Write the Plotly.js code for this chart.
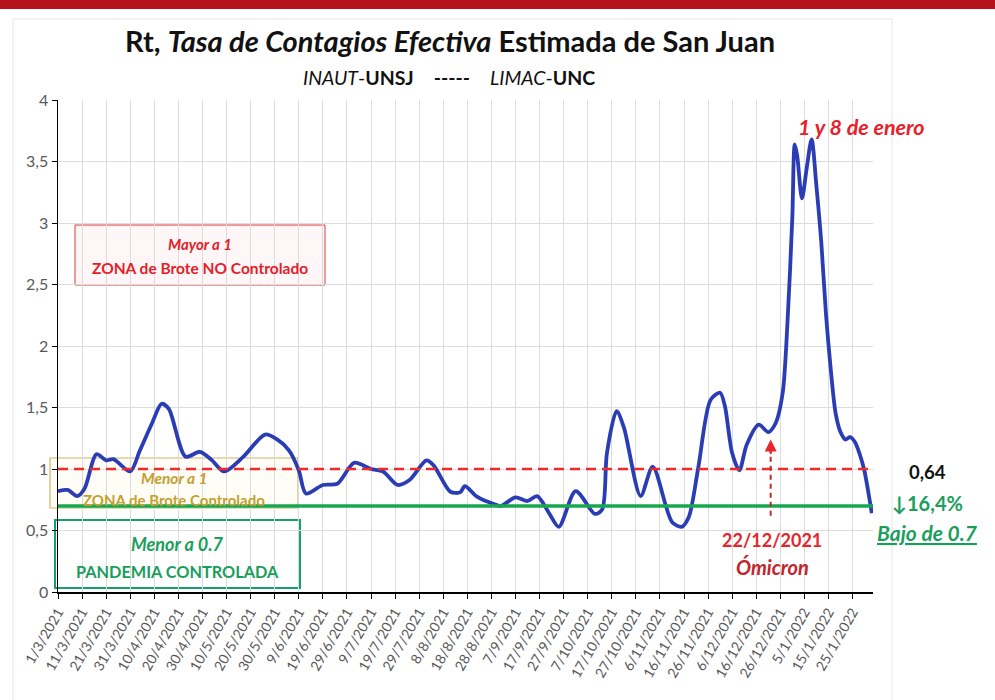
<!DOCTYPE html>
<html><head><meta charset="utf-8">
<script src="https://cdn.plot.ly/plotly-3.0.1.min.js"></script>
<style>html,body{margin:0;padding:0;background:#fff}#chart{width:995px;height:700px}</style>
</head><body><div id="chart"></div>
<script>
// ---- data ----
const dates = ['2021-03-01','2021-03-05','2021-03-09','2021-03-12','2021-03-17','2021-03-21','2021-03-24','2021-03-31',
'2021-04-04','2021-04-09','2021-04-13','2021-04-16','2021-04-23','2021-04-29','2021-05-04','2021-05-09','2021-05-17',
'2021-05-26','2021-05-31','2021-06-05','2021-06-09','2021-06-12','2021-06-19','2021-06-25','2021-07-02','2021-07-09',
'2021-07-14','2021-07-20','2021-07-25','2021-08-01','2021-08-04','2021-08-11','2021-08-15','2021-08-17','2021-08-22',
'2021-08-29','2021-09-01','2021-09-07','2021-09-12','2021-09-16','2021-09-21','2021-09-25','2021-10-02','2021-10-10',
'2021-10-13','2021-10-15','2021-10-19','2021-10-22','2021-10-29','2021-11-03','2021-11-11','2021-11-15','2021-11-18',
'2021-11-22','2021-11-27','2021-12-01','2021-12-03','2021-12-06','2021-12-09','2021-12-12','2021-12-17','2021-12-21',
'2021-12-24','2021-12-27','2021-12-29','2021-12-31','2022-01-01','2022-01-02','2022-01-04','2022-01-06','2022-01-08',
'2022-01-10','2022-01-12','2022-01-14','2022-01-16','2022-01-18','2022-01-20','2022-01-22','2022-01-24','2022-01-26',
'2022-01-28','2022-01-30','2022-02-01','2022-02-02'];
const rt = [0.82,0.83,0.78,0.84,1.12,1.07,1.08,0.98,
1.15,1.37,1.53,1.49,1.10,1.14,1.07,0.98,1.10,
1.28,1.24,1.15,0.99,0.80,0.87,0.88,1.05,1.00,
0.98,0.87,0.91,1.07,1.03,0.815,0.81,0.86,0.775,
0.715,0.70,0.77,0.74,0.78,0.64,0.53,0.82,0.635,
0.67,1.13,1.47,1.34,0.78,1.02,0.57,0.53,0.61,
1.02,1.56,1.62,1.51,1.13,0.99,1.195,1.36,1.30,
1.37,1.62,2.2,3.05,3.64,3.55,3.2,3.45,3.68,
3.3,2.85,2.25,1.8,1.45,1.3,1.24,1.26,1.22,
1.12,0.98,0.76,0.64];
const tickDates = ['2021-03-01','2021-03-11','2021-03-21','2021-03-31','2021-04-10','2021-04-20','2021-04-30','2021-05-10',
'2021-05-20','2021-05-30','2021-06-09','2021-06-19','2021-06-29','2021-07-09','2021-07-19','2021-07-29','2021-08-08',
'2021-08-18','2021-08-28','2021-09-07','2021-09-17','2021-09-27','2021-10-07','2021-10-17','2021-10-27','2021-11-06',
'2021-11-16','2021-11-26','2021-12-06','2021-12-16','2021-12-26','2022-01-05','2022-01-15','2022-01-25'];
const tickLabels = ['1/3/2021','11/3/2021','21/3/2021','31/3/2021','10/4/2021','20/4/2021','30/4/2021','10/5/2021',
'20/5/2021','30/5/2021','9/6/2021','19/6/2021','29/6/2021','9/7/2021','19/7/2021','29/7/2021','8/8/2021',
'18/8/2021','28/8/2021','7/9/2021','17/9/2021','27/9/2021','7/10/2021','17/10/2021','27/10/2021','6/11/2021',
'16/11/2021','26/11/2021','6/12/2021','16/12/2021','26/12/2021','5/1/2022','15/1/2022','25/1/2022'];
const yTicks = [0,0.5,1,1.5,2,2.5,3,3.5,4];
const yTickLabels = ['0','0,5','1','1,5','2','2,5','3','3,5','4'];
const limitBrote = 1;
const limitControl = 0.7;
const omicronDate = '2021-12-22';

// ---- layout helpers (pixel -> paper) ----
const ML = 58, MR = 122, MT = 100, MB = 108, W = 995, H = 700;
const PW = W - ML - MR, PH = H - MT - MB;
const xp = px => (px - ML) / PW;
const yp = py => (H - MB - py) / PH;
const FONT = 'Lato, "Open Sans", sans-serif';

const trace = {
  type: 'scatter', mode: 'lines', x: dates, y: rt,
  line: {color: '#2b3db4', width: 3.8, shape: 'spline', smoothing: 0.8},
  hoverinfo: 'x+y'
};

const shapes = [
  {type:'rect', xref:'paper', yref:'paper', x0:xp(-5), x1:xp(1000), y0:yp(9), y1:yp(-5), fillcolor:'#b5121b', line:{width:0}, layer:'below'},
  {type:'rect', xref:'paper', yref:'paper', x0:xp(13), x1:xp(892), y0:yp(710), y1:yp(19), line:{color:'#e6e6e6', width:1}, layer:'below'},
  {type:'rect', xref:'paper', yref:'paper', x0:xp(75), x1:xp(325), y0:yp(285), y1:yp(225), fillcolor:'#fff7f7', line:{color:'#e0393b', width:1}, layer:'between'},
  {type:'rect', xref:'paper', yref:'paper', x0:xp(50), x1:xp(298), y0:yp(508), y1:yp(458), fillcolor:'rgba(255,250,230,0.4)', line:{color:'#cbb866', width:1.2}, layer:'between'},
  {type:'rect', xref:'paper', yref:'paper', x0:xp(55), x1:xp(300), y0:yp(588), y1:yp(520), fillcolor:'rgba(255,255,255,0.6)', line:{color:'#19a06a', width:2}, layer:'between'},
  {type:'line', xref:'paper', yref:'y', x0:0, x1:1, y0:limitBrote, y1:limitBrote, line:{color:'#ee2a2a', width:2.5, dash:'10px,6px'}, layer:'above'},
  {type:'line', xref:'paper', yref:'y', x0:0, x1:1, y0:limitControl, y1:limitControl, line:{color:'#17a84f', width:3.5}, layer:'above'},
  {type:'line', xref:'x', yref:'y', x0:omicronDate, x1:omicronDate, y0:0.62, y1:1.17, line:{color:'#c4262c', width:2, dash:'5px,4px'}, layer:'above'}
];

const ann = (x, y, text, size, color, extra) => Object.assign({
  xref:'paper', yref:'paper', x:xp(x), y:yp(y), text, showarrow:false,
  xanchor:'center', yanchor:'middle', font:{family:FONT, size, color}
}, extra || {});

const annotations = [
  ann(449, 77, '<i>INAUT</i>-<b>UNSJ</b>    <b>-----</b>    <i>LIMAC</i>-<b>UNC</b>', 19.5, '#111'),
  ann(200, 244, '<b><i>Mayor a 1</i></b>', 15, '#e3202a'),
  ann(200, 268, '<b>ZONA de Brote NO Controlado</b>', 15.5, '#e3202a'),
  ann(174, 478, '<b><i>Menor a 1</i></b>', 15.5, '#c4a030'),
  ann(174, 500, '<b>ZONA de Brote Controlado</b>', 15, '#c4a030'),
  ann(177, 544, '<b><i>Menor a 0.7</i></b>', 18, '#1a9e5c'),
  ann(177, 571, '<b>PANDEMIA CONTROLADA</b>', 16.3, '#1a9e5c'),
  ann(861, 127, '<b><i>1 y 8 de enero</i></b>', 21.5, '#e8202a'),
  ann(772, 540, '<b>22/12/2021</b>', 18, '#e3262c'),
  ann(772, 567, '<b><i>Ómicron</i></b>', 20, '#c3242b'),
  ann(927, 472, '<b>0,64</b>', 18.5, '#111'),
  ann(927, 503, '<b>↓16,4%</b>', 20, '#1a9e5c'),
  ann(927, 532, '<b><i><u>Bajo de 0.7</u></i></b>', 21, '#1a9e5c'),
  {xref:'x', yref:'y', x:omicronDate, y:1.24, ax:0, ay:16, text:'', showarrow:true,
   arrowhead:2, arrowsize:1.2, arrowwidth:2, arrowcolor:'#e8262b'}
];

const layout = {
  width: W, height: H,
  margin: {l: ML, r: MR, t: MT, b: MB, pad: 0},
  paper_bgcolor: '#fff', plot_bgcolor: '#fff',
  showlegend: false,
  font: {family: FONT, color: '#595959'},
  title: {text: '<b>Rt, <i>Tasa de Contagios Efectiva</i> Estimada de San Juan</b>',
          x: 450/W, xanchor: 'center', y: 1 - 42/H, yanchor: 'middle', yref: 'container',
          font: {family: FONT, size: 29, color: '#111'}},
  xaxis: {
    type: 'date', range: ['2021-03-01', '2022-02-02 12:00'],
    tickmode: 'array', tickvals: tickDates, ticktext: tickLabels, tickangle: -60,
    ticks: 'outside', ticklen: 5, tickcolor: '#000', tickwidth: 1,
    showline: true, linecolor: '#000', linewidth: 1.5,
    showgrid: true, gridcolor: '#dcdcdc', gridwidth: 1, zeroline: false,
    tickfont: {family: FONT, size: 14, color: '#595959'}
  },
  yaxis: {
    range: [0, 4], tickmode: 'array', tickvals: yTicks, ticktext: yTickLabels,
    ticks: 'outside', ticklen: 5, tickcolor: '#000',
    showline: true, linecolor: '#000', linewidth: 1.5,
    showgrid: true, gridcolor: '#dcdcdc', zeroline: false,
    tickfont: {family: FONT, size: 16, color: '#595959'}
  },
  shapes, annotations
};

Plotly.newPlot('chart', [trace], layout, {displayModeBar: false, staticPlot: true});
</script></body></html>
